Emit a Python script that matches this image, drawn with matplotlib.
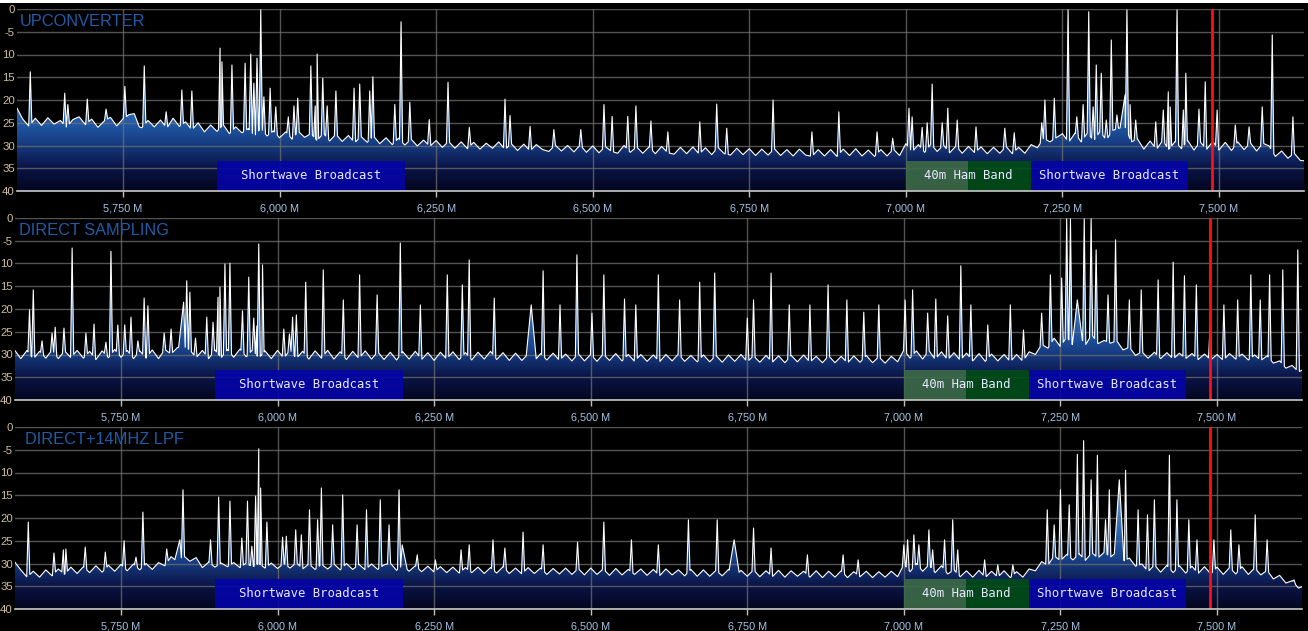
import numpy as np
import matplotlib.pyplot as plt
from matplotlib.colors import LinearSegmentedColormap
from matplotlib.patches import Rectangle, Polygon

# frequency span shown (MHz) and dB range
F_MIN, F_MAX = 5.5808, 7.6357
DB_MIN, DB_MAX = -40, 0

X_TICKS = [5.75, 6.0, 6.25, 6.5, 6.75, 7.0, 7.25, 7.5]
X_TICK_LABELS = ["5,750 M", "6,000 M", "6,250 M", "6,500 M", "6,750 M", "7,000 M", "7,250 M", "7,500 M"]
Y_TICKS = [0, -5, -10, -15, -20, -25, -30, -35, -40]
# the minus of the two-digit labels is cut by the left edge in the original
Y_TICK_LABELS = ["0", "-5", "10", "15", "20", "25", "30", "35", "40"]

TITLES = ["UPCONVERTER", "DIRECT SAMPLING", "DIRECT+14MHZ LPF"]
MARKER_FREQ = 7.489

# band plan: (start, stop, label)
BANDS = [
    (5.90, 6.20, "Shortwave Broadcast"),
    (7.00, 7.10, ""),
    (7.10, 7.20, ""),
    (7.20, 7.45, "Shortwave Broadcast"),
]
HAM_LABEL = (7.00, 7.20, "40m Ham Band")

# noise floor sampled every 10 kHz from 5.58 to 7.64 MHz (one row = 100 kHz)
FLOOR_FREQ = np.round(np.arange(5.58, 7.6401, 0.01), 2)

P1_FLOOR = [
    -21.6, -24.2, -25.8, -24.0, -25.6, -23.9, -25.3, -24.5, -26.0, -24.3,
    -23.7, -25.4, -24.2, -26.0, -24.6, -23.8, -25.7, -24.1, -23.2, -25.6,
    -26.1, -24.5, -25.9, -24.4, -26.2, -24.0, -25.8, -24.8, -26.6, -25.0,
    -27.0, -25.5, -26.9, -25.4, -27.4, -25.9, -27.2, -26.3, -27.9, -26.2,
    -27.9, -26.8, -28.3, -27.0, -28.6, -26.9, -28.2, -27.4, -28.9, -27.3,
    -29.0, -27.5, -29.1, -27.8, -29.4, -28.0, -29.3, -27.9, -29.6, -28.3,
    -29.8, -28.4, -29.9, -28.6, -30.1, -28.8, -30.2, -28.9, -30.4, -29.1,
    -30.6, -29.2, -30.7, -29.3, -30.8, -29.5, -30.6, -29.2, -30.9, -29.6,
    -31.1, -29.7, -31.2, -29.8, -30.9, -31.3, -29.9, -31.2, -30.0, -31.4,
    -29.9, -31.5, -30.1, -31.6, -30.2, -31.3, -31.7, -30.0, -31.5, -30.3,
    -31.7, -30.3, -31.8, -30.2, -31.6, -31.9, -30.4, -31.8, -30.3, -31.9,
    -30.5, -32.0, -30.4, -31.8, -32.1, -30.6, -32.0, -30.7, -32.2, -30.8,
    -32.1, -30.7, -32.2, -30.9, -32.3, -30.8, -32.1, -32.4, -30.9, -32.3,
    -30.9, -32.4, -30.8, -32.2, -30.7, -32.3, -31.0, -32.4, -30.9, -32.3,
    -30.8, -32.2, -29.6, -31.4, -29.8, -31.5, -29.7, -31.3, -29.9, -31.6,
    -30.1, -31.7, -30.2, -31.6, -30.3, -31.8, -30.4, -31.7, -30.2, -31.8,
    -30.4, -31.7, -29.8, -30.5, -28.4, -29.2, -28.3, -27.4, -29.3, -27.3,
    -29.2, -27.2, -29.0, -26.9, -28.8, -26.7, -26.2, -25.9, -29.2, -28.6,
    -30.8, -29.0, -30.9, -28.9, -30.9, -29.1, -30.7, -28.9, -31.0, -29.2,
    -30.9, -29.1, -31.0, -29.3, -31.1, -29.2, -30.9, -29.4, -31.2, -29.5,
    -30.1, -32.4, -31.2, -32.8, -31.7, -33.3, -33.4,
]
P2_FLOOR = [
    -29.0, -30.9, -29.1, -31.0, -29.3, -30.8, -29.0, -30.9, -29.2, -30.7,
    -29.1, -30.8, -29.3, -31.1, -29.2, -30.7, -28.9, -30.6, -29.1, -30.9,
    -29.2, -30.8, -29.0, -30.9, -28.9, -29.9, -28.5, -28.2, -29.0, -30.7,
    -29.1, -30.9, -29.0, -30.7, -28.9, -30.6, -28.8, -30.5, -29.0, -30.8,
    -29.2, -30.9, -29.1, -30.8, -29.0, -30.9, -29.3, -31.0, -29.2, -30.8,
    -29.1, -31.0, -29.4, -31.1, -29.3, -30.9, -29.2, -31.0, -29.4, -31.1,
    -29.5, -31.2, -29.4, -31.0, -29.3, -31.1, -29.6, -31.3, -29.5, -31.0,
    -29.4, -31.1, -29.6, -31.2, -29.5, -31.0, -29.3, -31.1, -29.6, -31.3,
    -29.7, -31.3, -29.9, -31.4, -29.8, -31.2, -29.7, -31.3, -29.9, -31.4,
    -29.8, -31.4, -30.0, -31.5, -29.9, -31.3, -29.8, -31.4, -30.0, -31.5,
    -30.0, -31.5, -30.1, -31.6, -30.0, -31.4, -29.9, -31.5, -30.2, -31.6,
    -30.1, -31.6, -30.2, -31.7, -30.1, -31.5, -30.0, -31.6, -30.3, -31.7,
    -30.2, -31.7, -30.3, -31.8, -30.2, -31.6, -30.1, -31.7, -30.4, -31.8,
    -30.3, -31.8, -30.4, -31.9, -30.3, -31.7, -30.2, -31.8, -30.5, -31.9,
    -30.4, -31.6, -29.0, -30.8, -29.2, -31.0, -29.1, -31.1, -29.4, -31.2,
    -29.6, -31.3, -29.7, -31.4, -29.8, -31.5, -29.9, -31.4, -30.0, -31.6,
    -30.0, -31.5, -29.4, -30.0, -27.8, -28.6, -26.4, -28.3, -26.1, -28.0,
    -25.8, -27.9, -25.6, -27.6, -26.9, -27.5, -27.0, -29.0, -28.4, -30.2,
    -29.4, -30.8, -29.5, -30.9, -29.6, -31.0, -29.7, -30.9, -29.8, -31.1,
    -29.9, -31.2, -30.0, -31.3, -29.8, -31.0, -29.9, -31.2, -30.1, -31.3,
    -30.3, -31.9, -31.4, -33.0, -32.4, -33.8, -33.2,
]
P3_FLOOR = [
    -29.6, -31.4, -33.0, -31.7, -33.0, -31.4, -32.7, -31.2, -32.4, -30.8,
    -32.2, -30.7, -32.0, -30.5, -31.9, -30.4, -31.7, -30.2, -31.6, -30.1,
    -31.4, -30.0, -31.3, -29.8, -30.5, -28.5, -29.6, -28.3, -29.5, -28.7,
    -30.9, -29.7, -30.8, -29.9, -30.7, -29.8, -30.9, -29.9, -30.8, -30.0,
    -31.0, -29.9, -31.1, -30.0, -31.0, -29.8, -31.2, -30.1, -31.3, -30.2,
    -31.2, -30.1, -31.4, -30.0, -31.3, -30.2, -31.4, -30.1, -31.3, -30.3,
    -29.9, -31.5, -30.4, -31.7, -30.5, -31.8, -30.6, -31.9, -30.7, -32.0,
    -30.8, -32.1, -30.9, -32.0, -30.8, -32.2, -30.9, -32.1, -30.7, -32.2,
    -31.0, -32.3, -30.9, -32.2, -31.0, -32.4, -31.1, -32.3, -31.0, -32.4,
    -31.1, -32.5, -31.0, -32.4, -31.2, -32.6, -31.1, -32.5, -31.3, -32.4,
    -31.2, -32.6, -31.3, -32.7, -31.2, -32.5, -31.4, -32.7, -31.3, -32.8,
    -31.4, -32.8, -31.5, -32.7, -31.3, -32.9, -31.5, -32.8, -31.4, -32.9,
    -31.6, -32.9, -31.5, -33.0, -31.6, -32.8, -31.7, -33.0, -31.6, -33.1,
    -31.7, -33.0, -31.6, -33.1, -31.8, -32.9, -31.7, -33.1, -31.8, -33.0,
    -31.7, -32.9, -30.2, -31.8, -30.0, -31.7, -30.3, -32.0, -30.5, -32.3,
    -31.4, -32.9, -31.6, -33.0, -31.5, -33.1, -31.7, -33.0, -31.6, -33.1,
    -31.8, -33.0, -31.2, -31.6, -29.6, -30.4, -28.3, -29.4, -28.0, -29.2,
    -27.9, -29.3, -27.6, -28.8, -27.5, -28.6, -27.4, -29.5, -28.8, -30.6,
    -30.1, -31.8, -30.3, -31.9, -30.4, -32.0, -30.5, -32.1, -30.6, -32.2,
    -30.7, -32.3, -30.8, -32.4, -30.9, -32.3, -30.7, -32.4, -31.0, -32.5,
    -31.5, -33.4, -32.6, -34.3, -33.8, -35.4, -34.9,
]

# narrow carriers: (MHz, dB)
P1_PEAKS = [
    (5.602, -13.8), (5.657, -18.5), (5.662, -21.0), (5.693, -19.8), (5.723, -22.0),
    (5.753, -17.0), (5.784, -12.5), (5.819, -22.6), (5.844, -17.8), (5.860, -18.0),
    (5.905, -8.6), (5.908, -11.6), (5.924, -12.3), (5.945, -11.9), (5.954, -9.9),
    (5.964, -10.8), (5.970, -0.2), (5.975, -19.3), (5.985, -17.4), (5.994, -21.5),
    (6.014, -23.7), (6.023, -21.3), (6.029, -19.6), (6.050, -12.5), (6.057, -21.3),
    (6.060, -9.9), (6.069, -15.2), (6.076, -21.3), (6.090, -18.0), (6.119, -17.4),
    (6.128, -16.5), (6.144, -18.0), (6.149, -14.9), (6.184, -21.0), (6.194, -2.8),
    (6.208, -20.5), (6.239, -24.3), (6.269, -16.1), (6.303, -26.0), (6.360, -19.8),
    (6.368, -23.4), (6.400, -25.8), (6.438, -26.5), (6.481, -26.5), (6.518, -21.0),
    (6.531, -23.6), (6.556, -23.6), (6.569, -21.3), (6.593, -24.6), (6.620, -27.0),
    (6.671, -24.8), (6.698, -20.9), (6.714, -26.2), (6.788, -20.0), (6.850, -27.0),
    (6.893, -22.6), (6.954, -27.0), (6.979, -28.4), (7.005, -21.8), (7.010, -23.7),
    (7.026, -26.0), (7.034, -25.0), (7.042, -16.5), (7.058, -25.0), (7.067, -21.8),
    (7.082, -24.4), (7.112, -25.9), (7.158, -26.2), (7.173, -27.2), (7.217, -25.0),
    (7.222, -20.0), (7.237, -19.6), (7.259, -0.2), (7.273, -23.7), (7.283, -21.0),
    (7.292, -0.6), (7.299, -21.5), (7.304, -12.3), (7.312, -14.1), (7.320, -24.4),
    (7.328, -6.8), (7.337, -23.3), (7.353, -0.2), (7.358, -21.0), (7.367, -24.4),
    (7.399, -24.8), (7.411, -22.2), (7.419, -18.2), (7.422, -21.5), (7.433, -0.2),
    (7.443, -22.2), (7.447, -14.1), (7.468, -22.0), (7.478, -16.0), (7.497, -22.2),
    (7.526, -25.5), (7.548, -25.9), (7.569, -21.5), (7.585, -5.7), (7.618, -23.7),
]
P2_PEAKS = [
    (5.604, -20.2), (5.610, -15.8), (5.624, -27.0), (5.640, -25.3), (5.645, -24.0),
    (5.659, -24.2), (5.672, -6.6), (5.694, -25.3), (5.707, -23.3), (5.726, -27.3),
    (5.734, -7.3), (5.745, -23.5), (5.756, -23.5), (5.766, -21.8), (5.777, -27.0),
    (5.787, -17.6), (5.793, -19.3), (5.819, -25.3), (5.830, -24.4), (5.855, -13.8),
    (5.860, -16.3), (5.869, -26.4), (5.887, -21.8), (5.897, -22.9), (5.905, -17.4),
    (5.908, -15.2), (5.916, -10.1), (5.924, -9.9), (5.944, -20.4), (5.954, -13.0),
    (5.962, -22.0), (5.970, -5.7), (5.976, -10.3), (6.010, -24.4), (6.019, -25.5),
    (6.024, -21.8), (6.030, -21.3), (6.045, -14.1), (6.073, -11.4), (6.105, -18.0),
    (6.131, -12.5), (6.159, -16.9), (6.196, -5.5), (6.228, -19.1), (6.271, -12.5),
    (6.295, -14.7), (6.306, -9.2), (6.346, -17.6), (6.424, -11.6), (6.451, -19.1),
    (6.478, -8.1), (6.502, -20.9), (6.521, -12.5), (6.554, -17.8), (6.572, -19.1),
    (6.608, -12.5), (6.642, -18.0), (6.674, -14.1), (6.698, -12.1), (6.750, -22.0),
    (6.760, -18.0), (6.788, -12.1), (6.817, -19.1), (6.850, -19.1), (6.879, -14.7),
    (6.909, -18.0), (6.936, -20.7), (6.960, -19.1), (7.002, -18.0), (7.014, -15.8),
    (7.038, -20.9), (7.051, -17.8), (7.070, -21.5), (7.091, -10.5), (7.107, -19.1),
    (7.134, -23.5), (7.170, -19.1), (7.191, -24.6), (7.220, -20.9), (7.234, -12.5),
    (7.252, -13.2), (7.260, -0.2), (7.266, -0.2), (7.288, -0.2), (7.299, -0.2),
    (7.307, -7.0), (7.326, -16.9), (7.338, -4.8), (7.360, -18.0), (7.379, -15.8),
    (7.406, -13.6), (7.430, -9.7), (7.448, -12.7), (7.467, -14.7), (7.489, -23.5),
    (7.511, -19.1), (7.533, -18.0), (7.554, -12.5), (7.569, -18.0), (7.584, -12.5),
    (7.605, -11.4), (7.629, -7.0),
]
P3_PEAKS = [
    (5.602, -20.9), (5.643, -27.7), (5.658, -27.0), (5.662, -26.8), (5.693, -26.4),
    (5.725, -27.5), (5.755, -25.0), (5.774, -28.6), (5.785, -18.7), (5.823, -26.8),
    (5.849, -13.8), (5.893, -24.8), (5.906, -15.4), (5.924, -16.3), (5.943, -24.4),
    (5.952, -16.3), (5.959, -26.2), (5.965, -15.2), (5.970, -4.8), (5.973, -13.4),
    (5.983, -20.9), (6.008, -24.2), (6.014, -24.0), (6.029, -22.6), (6.038, -23.7),
    (6.051, -18.2), (6.064, -20.4), (6.070, -13.4), (6.088, -21.5), (6.104, -14.9),
    (6.127, -21.5), (6.142, -18.2), (6.164, -16.0), (6.178, -21.5), (6.194, -13.8),
    (6.223, -28.1), (6.252, -29.2), (6.293, -27.0), (6.306, -25.9), (6.344, -24.8),
    (6.363, -26.6), (6.392, -23.1), (6.424, -25.9), (6.479, -25.3), (6.521, -20.9),
    (6.565, -24.8), (6.608, -25.9), (6.656, -20.4), (6.702, -20.4), (6.760, -22.2),
    (6.788, -26.6), (6.846, -28.1), (6.903, -28.1), (6.927, -29.2), (7.000, -25.9),
    (7.006, -24.8), (7.016, -23.7), (7.024, -25.9), (7.040, -22.6), (7.046, -27.0),
    (7.065, -24.8), (7.078, -20.4), (7.086, -27.0), (7.129, -29.2), (7.150, -30.3),
    (7.174, -30.3), (7.229, -18.2), (7.240, -21.5), (7.250, -13.8), (7.264, -17.1),
    (7.277, -6.0), (7.287, -3.0), (7.299, -11.6), (7.309, -6.2), (7.322, -20.4),
    (7.328, -13.8), (7.354, -9.5), (7.374, -18.2), (7.389, -19.3), (7.400, -16.0),
    (7.424, -6.2), (7.436, -16.0), (7.455, -20.4), (7.468, -24.8), (7.495, -24.8),
    (7.522, -22.6), (7.535, -25.9), (7.561, -19.3), (7.580, -24.8), (7.623, -33.6),
]

# wider humps: (MHz, dB)
P1_BUMPS = [(5.768, -23.0), (5.959, -16.3), (7.350, -18.9)]
P2_BUMPS = [(5.850, -18.5), (5.967, -23.7), (6.405, -19.1), (7.277, -18.0)]
P3_BUMPS = [(5.844, -24.8), (6.199, -25.9), (6.729, -24.8), (7.344, -11.6)]

PANELS = [
    (P1_FLOOR, P1_PEAKS, P1_BUMPS),
    (P2_FLOOR, P2_PEAKS, P2_BUMPS),
    (P3_FLOOR, P3_PEAKS, P3_BUMPS),
]

PEAK_HW = 0.0025
BUMP_HW = 0.008

FILL_CMAP = LinearSegmentedColormap.from_list(
    "spectrum",
    [
        (0.0, "#04061f"),
        (0.125, "#0a1446"),
        (0.25, "#163a7e"),
        (0.35, "#1e54a0"),
        (0.5, "#3f78c0"),
        (0.75, "#9cbde4"),
        (1.0, "#e8f0fa"),
    ],
)


def build_trace(floor_db, peaks, bumps):
    floor_db = np.asarray(floor_db, dtype=float)
    pts = []
    spans = []
    items = [(f, d, PEAK_HW) for f, d in peaks] + [(f, d, BUMP_HW) for f, d in bumps]
    for f, d, w in items:
        pts.append((f - w, float(np.interp(f - w, FLOOR_FREQ, floor_db))))
        pts.append((f, d))
        pts.append((f + w, float(np.interp(f + w, FLOOR_FREQ, floor_db))))
        spans.append((f - w, f + w))
    for f, d in zip(FLOOR_FREQ, floor_db):
        if not any(a <= f <= b for a, b in spans):
            pts.append((f, d))
    pts.sort()
    arr = np.array(pts)
    return arr[:, 0], arr[:, 1]


def draw_panel(ax, title, floor_db, peaks, bumps, title_dx):
    ax.set_facecolor("black")
    ax.set_xlim(F_MIN, F_MAX)
    ax.set_ylim(DB_MIN, DB_MAX)

    x, y = build_trace(floor_db, peaks, bumps)

    poly = np.column_stack([
        np.concatenate([[x[0]], x, [x[-1]]]),
        np.concatenate([[DB_MIN], y, [DB_MIN]]),
    ])
    clip = Polygon(poly, closed=True, facecolor="none", edgecolor="none")
    ax.add_patch(clip)
    grad = np.linspace(0, 1, 256).reshape(-1, 1)
    im = ax.imshow(grad, extent=[F_MIN, F_MAX, DB_MIN, DB_MAX], origin="lower",
                   aspect="auto", cmap=FILL_CMAP, zorder=1, interpolation="bilinear")
    im.set_clip_path(clip)
    ax.plot(x, y, color="white", lw=0.8, zorder=3)

    # band plan boxes
    box_bottom, box_top = DB_MIN, -33.4
    colors = ["#0404a8", "#3d6b47", "#004d16", "#0404a8"]
    for (f0, f1, label), c in zip(BANDS, colors):
        ax.add_patch(Rectangle((f0, box_bottom), f1 - f0, box_top - box_bottom,
                               facecolor=c, edgecolor="none", alpha=0.9, zorder=4))
        if label:
            ax.text((f0 + f1) / 2, (box_bottom + box_top) / 2, label, color="#e8e8ff",
                    fontsize=8.8, family="DejaVu Sans Mono", ha="center", va="center", zorder=5)
    f0, f1, label = HAM_LABEL
    ax.text((f0 + f1) / 2, (box_bottom + box_top) / 2, label, color="#e8e8ff",
            fontsize=8.8, family="DejaVu Sans Mono", ha="center", va="center", zorder=5)

    ax.axvline(MARKER_FREQ, color="#ff1010", lw=2, zorder=6)

    ax.set_xticks(X_TICKS)
    ax.set_xticklabels(X_TICK_LABELS)
    ax.set_yticks(Y_TICKS)
    ax.set_yticklabels(Y_TICK_LABELS)
    ax.tick_params(axis="x", colors="#c0c0c0", labelcolor="#a4c4e4", labelsize=7.8,
                   length=4, width=1, pad=5)
    ax.tick_params(axis="y", length=0, labelcolor="#cfc09a", labelsize=8.2, pad=1.5)
    for lab in ax.get_xticklabels() + ax.get_yticklabels():
        lab.set_family("Liberation Sans")

    ax.set_axisbelow(False)
    ax.grid(True, color="#707070", lw=1, alpha=0.75)
    for side in ["top", "right", "left"]:
        ax.spines[side].set_visible(False)
    ax.spines["bottom"].set_color("#c8c8c8")
    ax.spines["bottom"].set_linewidth(1.2)
    ax.spines["bottom"].set_zorder(7)

    ax.text(title_dx, 0.972, title, transform=ax.transAxes, color="#1f5ca6",
            fontsize=11.8, family="Liberation Sans", ha="left", va="top", zorder=8)


def main() -> None:
    fig = plt.figure(figsize=(13.08, 6.31), dpi=100, facecolor="black")
    W, H = 1308, 631
    # (left px, top px, width px) of each panel's plot area
    layout = [(17, 9, 1287), (15, 218, 1287), (15, 427, 1287)]
    title_dx = [0.002, 0.003, 0.008]
    for (left, top, width), title, (floor_db, peaks, bumps), tdx in zip(layout, TITLES, PANELS, title_dx):
        ax = fig.add_axes([left / W, 1 - (top + 182) / H, width / W, 182 / H])
        draw_panel(ax, title, floor_db, peaks, bumps, tdx)

    fig.add_artist(Rectangle((0, 1 - 3 / H), 1, 3 / H, transform=fig.transFigure,
                             facecolor="white", edgecolor="none"))
    fig.savefig("out.png", dpi=100, facecolor="black")


if __name__ == "__main__":
    main()
